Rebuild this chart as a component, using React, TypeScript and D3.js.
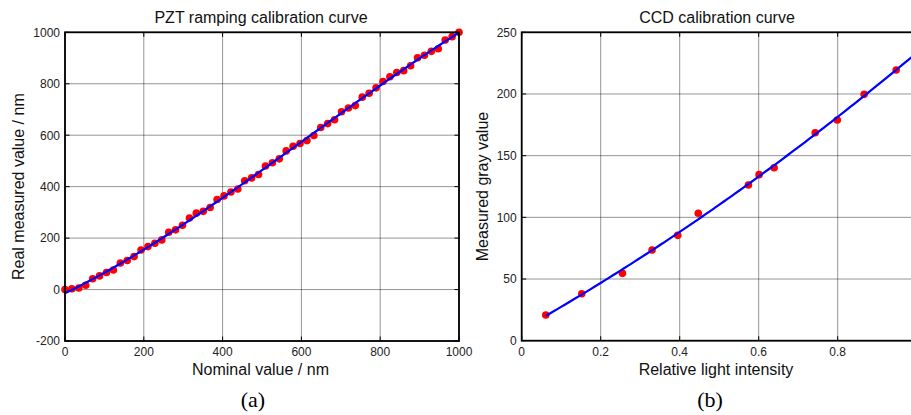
import React from 'react';
import * as d3 from 'd3';

// ---- Panel (a): PZT ramping calibration ----
const pztNominal = [
  0, 17.5, 35.1, 52.6, 70.2, 87.7, 105.3, 122.8, 140.4, 157.9, 175.4, 193.0, 210.5, 228.1, 245.6,
  263.2, 280.7, 298.2, 315.8, 333.3, 350.9, 368.4, 386.0, 403.5, 421.1, 438.6, 456.1, 473.7, 491.2,
  508.8, 526.3, 543.9, 561.4, 578.9, 596.5, 614.0, 631.6, 649.1, 666.7, 684.2, 701.8, 719.3, 736.8,
  754.4, 771.9, 789.5, 807.0, 824.6, 842.1, 859.6, 877.2, 894.7, 912.3, 929.8, 947.4, 964.9, 982.5, 1000,
];
const pztMeasured = [
  0, 3, 6, 17, 42, 53, 66, 76, 103, 113, 128, 154, 167, 180, 193,
  223, 232, 250, 278, 297, 304, 319, 350, 364, 379, 391, 423, 434, 447,
  480, 493, 508, 539, 557, 568, 579, 599, 630, 645, 660, 691, 706, 715,
  748, 763, 784, 809, 827, 844, 851, 870, 901, 911, 926, 936, 970, 983, 1000,
];
const pztXTicks = [0, 200, 400, 600, 800, 1000];
const pztYTicks = [-200, 0, 200, 400, 600, 800, 1000];

// ---- Panel (b): CCD calibration ----
const ccdIntensity = [0.061, 0.152, 0.255, 0.33, 0.395, 0.447, 0.574, 0.601, 0.639, 0.743, 0.799, 0.867, 0.948];
const ccdGray = [20.8, 38.1, 54.6, 73.5, 85.4, 103.3, 126.2, 134.6, 140.2, 168.6, 178.9, 199.7, 219.4];
const ccdXTicks = [0, 0.2, 0.4, 0.6, 0.8];
const ccdYTicks = [0, 50, 100, 150, 200, 250];

// least-squares polynomial fit (coefficients in ascending power), x scaled for stability
function polyfit(xs: number[], ys: number[], deg: number): (v: number) => number {
  const s = d3.max(xs.map(Math.abs)) || 1;
  const n = deg + 1;
  const A: number[][] = Array.from({ length: n }, () => new Array(n + 1).fill(0));
  for (let k = 0; k < xs.length; k++) {
    const xv = xs[k] / s;
    for (let i = 0; i < n; i++) {
      for (let j = 0; j < n; j++) A[i][j] += Math.pow(xv, i + j);
      A[i][n] += ys[k] * Math.pow(xv, i);
    }
  }
  for (let c = 0; c < n; c++) {
    let p = c;
    for (let r = c + 1; r < n; r++) if (Math.abs(A[r][c]) > Math.abs(A[p][c])) p = r;
    [A[c], A[p]] = [A[p], A[c]];
    for (let r = 0; r < n; r++) {
      if (r === c) continue;
      const f = A[r][c] / A[c][c];
      for (let j = c; j <= n; j++) A[r][j] -= f * A[c][j];
    }
  }
  const coef = A.map((row, i) => row[n] / row[i]);
  return (v: number) => coef.reduce((acc, c, i) => acc + c * Math.pow(v / s, i), 0);
}

const FONT = 'Arial, "Liberation Sans", Helvetica, sans-serif';

type PanelProps = {
  x0: number; x1: number; yTop: number; yBot: number;
  xDomain: [number, number]; yDomain: [number, number];
  xTicks: number[]; yTicks: number[];
  xs: number[]; ys: number[];
  fitDeg: number; fitFrom: number; fitTo: number;
  title: string; xLabel: string; yLabel: string;
  titleX: number; xLabelX: number; yLabelX: number;
  letter: string; letterX: number;
  fmt: (v: number) => string;
  clipId: string;
};

function Panel(p: PanelProps) {
  const x = d3.scaleLinear().domain(p.xDomain).range([p.x0, p.x1]);
  const y = d3.scaleLinear().domain(p.yDomain).range([p.yBot, p.yTop]);
  const f = polyfit(p.xs, p.ys, p.fitDeg);
  const samples = d3.range(0, 101).map((i) => p.fitFrom + ((p.fitTo - p.fitFrom) * i) / 100);
  const line = d3.line<number>().x((v) => x(v)).y((v) => y(f(v)));
  const tickLen = 4.5;
  const cy = (p.yTop + p.yBot) / 2;
  return (
    <g fontFamily={FONT}>
      <defs>
        <clipPath id={p.clipId}>
          <rect x={p.x0} y={p.yTop} width={p.x1 - p.x0} height={p.yBot - p.yTop} />
        </clipPath>
      </defs>
      {/* grid */}
      {p.xTicks.map((t) => (
        <line key={'gx' + t} x1={x(t)} x2={x(t)} y1={p.yTop} y2={p.yBot} stroke="#000" strokeOpacity={0.42} strokeWidth={1} />
      ))}
      {p.yTicks.map((t) => (
        <line key={'gy' + t} x1={p.x0} x2={p.x1} y1={y(t)} y2={y(t)} stroke="#000" strokeOpacity={0.42} strokeWidth={1} />
      ))}
      {/* ticks */}
      {p.xTicks.map((t) => (
        <g key={'tx' + t}>
          <line x1={x(t)} x2={x(t)} y1={p.yBot} y2={p.yBot - tickLen} stroke="#000" strokeWidth={1} />
          <line x1={x(t)} x2={x(t)} y1={p.yTop} y2={p.yTop + tickLen} stroke="#000" strokeWidth={1} />
          <text x={x(t)} y={p.yBot + 15} fontSize={12} textAnchor="middle" fill="#222">{p.fmt(t)}</text>
        </g>
      ))}
      {p.yTicks.map((t) => (
        <g key={'ty' + t}>
          <line x1={p.x0} x2={p.x0 + tickLen} y1={y(t)} y2={y(t)} stroke="#000" strokeWidth={1} />
          <line x1={p.x1} x2={p.x1 - tickLen} y1={y(t)} y2={y(t)} stroke="#000" strokeWidth={1} />
          <text x={p.x0 - 5} y={y(t)} dy="0.36em" fontSize={12} textAnchor="end" fill="#222">{p.fmt(t)}</text>
        </g>
      ))}
      {/* data */}
      {p.xs.map((v, i) => (
        <circle key={'pt' + i} cx={x(v)} cy={y(p.ys[i])} r={3.8} fill="#ff0000" />
      ))}
      <path d={line(samples) || ''} fill="none" stroke="#0000ff" strokeWidth={2.2} clipPath={`url(#${p.clipId})`} />
      {/* box */}
      <rect x={p.x0} y={p.yTop} width={p.x1 - p.x0} height={p.yBot - p.yTop} fill="none" stroke="#000" strokeWidth={1.8} />
      {/* labels */}
      <text x={p.titleX} y={23} fontSize={16} textAnchor="middle" fill="#111">{p.title}</text>
      <text x={p.xLabelX} y={p.yBot + 34} fontSize={16} textAnchor="middle" fill="#111">{p.xLabel}</text>
      <text transform={`translate(${p.yLabelX},${cy}) rotate(-90)`} fontSize={16} textAnchor="middle" fill="#111">{p.yLabel}</text>
      <text x={p.letterX} y={407} fontSize={22} textAnchor="middle" fill="#000" fontFamily='"Times New Roman", "Liberation Serif", serif'>{p.letter}</text>
    </g>
  );
}

export default function App() {
  return (
    <div style={{ position: 'fixed', left: 0, top: 0, width: 911, height: 415, overflow: 'hidden', background: '#fff' }}>
      <svg width={911} height={415} viewBox="0 0 911 415" style={{ display: 'block' }}>
        <rect x={0} y={0} width={911} height={415} fill="#fff" />
        <Panel
          x0={65} x1={459} yTop={32.3} yBot={341}
          xDomain={[0, 1000]} yDomain={[-200, 1000]}
          xTicks={pztXTicks} yTicks={pztYTicks}
          xs={pztNominal} ys={pztMeasured}
          fitDeg={3} fitFrom={0} fitTo={1000}
          title="PZT ramping calibration curve" xLabel="Nominal value / nm" yLabel="Real measured value / nm"
          titleX={261} xLabelX={260.5} yLabelX={23.5}
          letter="(a)" letterX={253}
          fmt={(v) => String(v)}
          clipId="clipA"
        />
        <Panel
          x0={521.7} x1={916.7} yTop={32.3} yBot={340.7}
          xDomain={[0, 1]} yDomain={[0, 250]}
          xTicks={ccdXTicks} yTicks={ccdYTicks}
          xs={ccdIntensity} ys={ccdGray}
          fitDeg={2} fitFrom={ccdIntensity[0]} fitTo={1}
          title="CCD calibration curve" xLabel="Relative light intensity" yLabel="Measured gray value"
          titleX={717} xLabelX={716} yLabelX={487.5}
          letter="(b)" letterX={710}
          fmt={(v) => String(v)}
          clipId="clipB"
        />
      </svg>
    </div>
  );
}
